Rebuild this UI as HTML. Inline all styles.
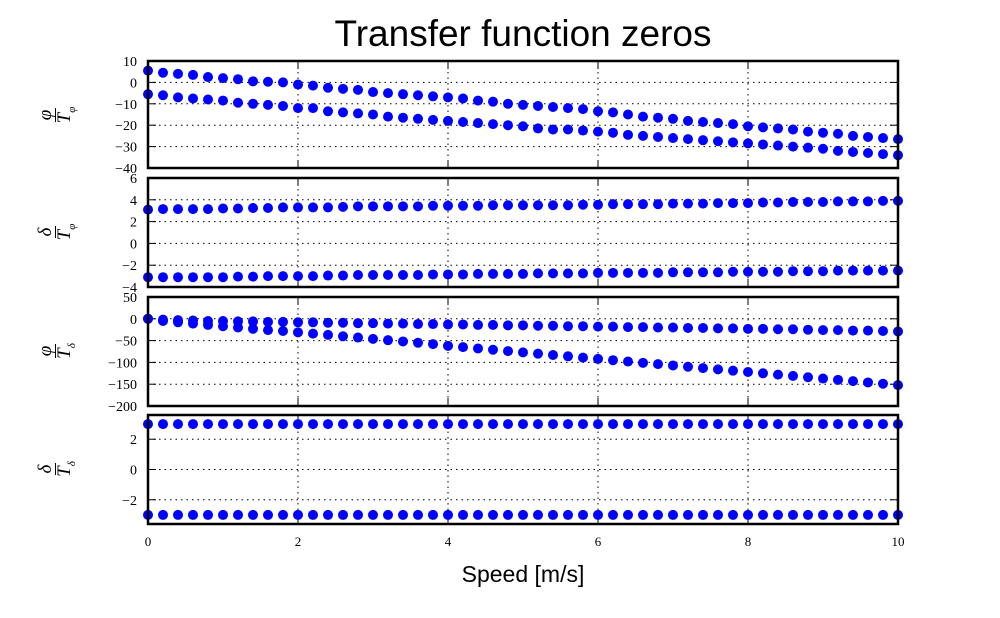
<!DOCTYPE html>
<html><head><meta charset="utf-8"><style>
body{margin:0;background:#fff;width:1000px;height:618px;overflow:hidden;position:relative;font-family:"Liberation Serif",serif}
svg{position:absolute;left:0;top:0}
.yl{position:absolute;transform:rotate(-90deg);transform-origin:center;font-family:"Liberation Serif",serif;font-style:italic;text-align:center;width:60px;height:40px;display:flex;justify-content:center;align-items:center}
.fr{display:inline-flex;flex-direction:column;align-items:center;font-size:19px;line-height:18px}
.fr span:first-child{border-bottom:1.3px solid #000;padding:0 2px}
</style></head><body>
<svg id="chart" width="1000" height="618">
<text x="523" y="46" text-anchor="middle" font-family="Liberation Sans, sans-serif" font-size="37">Transfer function zeros</text>
<text x="523" y="582" text-anchor="middle" font-family="Liberation Sans, sans-serif" font-size="23">Speed [m/s]</text>
</svg>
<div class="yl" style="left:29px;top:95px"><div class="fr"><span>φ</span><span>T<sub style="font-size:11px">φ</sub></span></div></div>
<div class="yl" style="left:29px;top:212px"><div class="fr"><span>δ</span><span>T<sub style="font-size:11px">φ</sub></span></div></div>
<div class="yl" style="left:29px;top:331px"><div class="fr"><span>φ</span><span>T<sub style="font-size:11px">δ</sub></span></div></div>
<div class="yl" style="left:29px;top:449px"><div class="fr"><span>δ</span><span>T<sub style="font-size:11px">δ</sub></span></div></div>
<script>
const speeds=[0,0.2,0.4,0.6,0.8,1,1.2,1.4,1.6,1.8,2,2.2,2.4,2.6,2.8,3,3.2,3.4,3.6,3.8,4,4.2,4.4,4.6,4.8,5,5.2,5.4,5.6,5.8,6,6.2,6.4,6.6,6.8,7,7.2,7.4,7.6,7.8,8,8.2,8.4,8.6,8.8,9,9.2,9.4,9.6,9.8,10];
const p1a=[5.5,4.5,4,3.5,2.5,2,1.5,0.5,0.3,0,-1,-1.5,-2.5,-3,-3.5,-4.5,-5,-5.5,-6,-6.5,-7,-7.5,-8.5,-9,-10,-10.5,-11,-11.5,-12,-12.5,-13.5,-14,-15,-16,-16.5,-17,-18,-18.5,-19,-19.5,-20.5,-21,-21.5,-22,-23,-23.5,-24,-25,-25.5,-26,-26.5];
const p1b=[-5.5,-6,-7,-7.5,-8,-8.5,-9.5,-10,-10.5,-11,-12,-12,-13.5,-14,-14.5,-15,-16,-16.5,-17,-17.5,-18,-18.5,-19,-19.5,-20,-20.5,-21.5,-22,-22,-22.5,-23,-23.5,-24.5,-25,-25.5,-26,-26.5,-27,-27.5,-28,-28.5,-29,-29.5,-30,-30.5,-31,-32,-32.5,-33,-33.5,-34];
const p2a=[3.1,3.15,3.15,3.15,3.15,3.2,3.2,3.25,3.25,3.3,3.3,3.3,3.3,3.35,3.4,3.4,3.4,3.4,3.4,3.45,3.45,3.45,3.45,3.5,3.5,3.5,3.5,3.5,3.5,3.55,3.55,3.6,3.6,3.6,3.6,3.65,3.65,3.65,3.7,3.7,3.7,3.75,3.75,3.8,3.8,3.8,3.85,3.85,3.85,3.9,3.9];
const p2b=[-3.1,-3.1,-3.1,-3.1,-3.1,-3.1,-3.05,-3.05,-3.0,-3.0,-3.0,-3.0,-2.95,-2.95,-2.9,-2.9,-2.9,-2.9,-2.9,-2.85,-2.85,-2.85,-2.8,-2.8,-2.8,-2.8,-2.75,-2.75,-2.75,-2.75,-2.7,-2.7,-2.7,-2.7,-2.7,-2.65,-2.65,-2.65,-2.65,-2.6,-2.6,-2.6,-2.6,-2.55,-2.55,-2.55,-2.5,-2.5,-2.5,-2.5,-2.5];
const p3a=[0,-2,-3,-4,-5,-5,-6,-6,-7,-7,-8,-8,-9,-9,-10,-10,-11,-11,-12,-12,-13,-13,-14,-14,-15,-15,-16,-16,-17,-17,-18,-18,-19,-19,-20,-20,-21,-21,-22,-22,-23,-23,-24,-24,-25,-26,-26,-27,-27,-28,-29];
const p3b=[0,-5,-8,-11,-14,-17,-20,-23,-26,-28,-31,-34,-37,-40,-43,-46,-49,-52,-55,-58,-62,-65,-68,-71,-74,-77,-80,-83,-86,-89,-92,-95,-98,-101,-104,-107,-110,-113,-116,-119,-122,-125,-128,-131,-134,-137,-140,-143,-146,-149,-152];
const p4a=speeds.map(()=>3.0);
const p4b=speeds.map(()=>-3.0);
const xTicks=[0,2,4,6,8,10];
const yTicks1=[10,0,-10,-20,-30,-40];
const yTicks2=[6,4,2,0,-2,-4];
const yTicks3=[50,0,-50,-100,-150,-200];
const yTicks4=[2,0,-2];

const svg=document.getElementById('chart');const NS='http://www.w3.org/2000/svg';
function el(t,a){const e=document.createElementNS(NS,t);for(const k in a)e.setAttribute(k,a[k]);svg.appendChild(e);return e;}
const X0=148,X1=898;
const xs=v=>X0+(v-0)/(10-0)*(X1-X0);
const panels=[
 {top:61,bot:168,min:-40,max:10,ticks:yTicks1,a:p1a,b:p1b,name:'phi-tphi'},
 {top:178,bot:287,min:-4,max:6,ticks:yTicks2,a:p2a,b:p2b,name:'delta-tphi'},
 {top:297,bot:406,min:-200,max:50,ticks:yTicks3,a:p3a,b:p3b,name:'phi-tdelta'},
 {top:415,bot:524,min:-3.6,max:3.6,ticks:yTicks4,a:p4a,b:p4b,name:'delta-tdelta'}];
const fmt=v=>v<0?'\u2212'+(-v):''+v;
panels.forEach((p,pi)=>{
 const ys=v=>p.bot-(v-p.min)/(p.max-p.min)*(p.bot-p.top);
 xTicks.forEach(t=>{const x=xs(t);
  if(t>0&&t<10){const g=el('line',{x1:x,x2:x,y1:p.top,y2:p.bot,stroke:'#000','stroke-width':1,'stroke-dasharray':'1.5,4'});
  
  }
  el('line',{x1:x,x2:x,y1:p.top,y2:p.top+8,stroke:'#000','stroke-width':1});
  el('line',{x1:x,x2:x,y1:p.bot,y2:p.bot-8,stroke:'#000','stroke-width':1});
  if(pi===3){const tx=el('text',{x:x,y:546,'text-anchor':'middle','font-size':13});tx.textContent=t;
  
  }
 });
 p.ticks.forEach(t=>{const y=ys(t);
  if(y>p.top+1&&y<p.bot-1){const g=el('line',{x1:X0,x2:X1,y1:y,y2:y,stroke:'#000','stroke-width':1,'stroke-dasharray':'1.5,4'});
  
  }
  el('line',{x1:X0,x2:X0+8,y1:y,y2:y,stroke:'#000','stroke-width':1});
  el('line',{x1:X1,x2:X1-8,y1:y,y2:y,stroke:'#000','stroke-width':1});
  const tx=el('text',{x:137,y:y+5,'text-anchor':'end','font-size':14});tx.textContent=fmt(t);
  
  
 });
 [p.a,p.b].forEach((ser,si)=>{speeds.forEach((s,i)=>{
  const c=el('circle',{cx:xs(s),cy:ys(ser[i]),r:5,fill:'#0000ff'});
  
  
 });});
 const r=el('rect',{x:X0,y:p.top,width:X1-X0,height:p.bot-p.top,fill:'none',stroke:'#000','stroke-width':2.5});
 
 
});
</script>
</body></html>
